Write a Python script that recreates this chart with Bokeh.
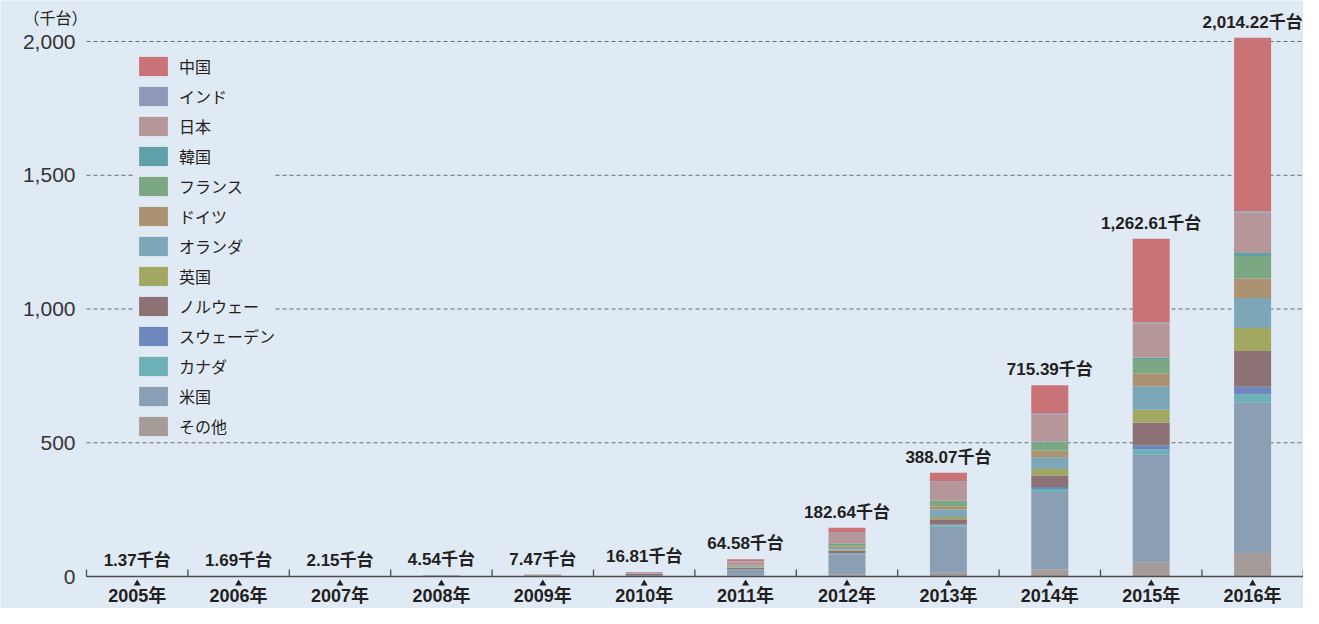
from bokeh.plotting import figure
from bokeh.models import (Range1d, FixedTicker, NumeralTickFormatter, Legend,
                          LegendItem, Label, ColumnDataSource)
from bokeh.core.properties import value
from bokeh.embed import file_html
from bokeh.resources import INLINE

# ---- data (thousand units, EV stock) ----
years = ["2005年", "2006年", "2007年", "2008年", "2009年", "2010年",
         "2011年", "2012年", "2013年", "2014年", "2015年", "2016年"]
totals = [1.37, 1.69, 2.15, 4.54, 7.47, 16.81, 64.58, 182.64, 388.07, 715.39, 1262.61, 2014.22]

others      = [0.02, 0.34, 0.80, 1.28, 2.38, 2.24, 4.55, 8.86, 14.20, 26.03, 52.91, 87.46]
usa         = [1.12, 1.12, 1.12, 2.58, 2.58, 3.77, 21.50, 74.74, 171.41, 290.22, 404.09, 563.71]
canada      = [0, 0, 0, 0, 0, 0, 0.52, 2.60, 5.71, 10.77, 17.68, 29.27]
sweden      = [0, 0, 0, 0, 0, 0, 0.18, 1.11, 2.66, 7.32, 15.91, 29.33]
norway      = [0, 0, 0, 0, 0, 3.35, 5.38, 9.55, 20.49, 43.44, 84.18, 133.26]
uk          = [0.20, 0.20, 0.20, 0.20, 0.20, 0.26, 1.29, 3.90, 7.74, 24.08, 48.51, 86.42]
netherlands = [0, 0, 0, 0, 0, 0.27, 1.14, 6.26, 28.67, 43.76, 87.53, 112.01]
germany     = [0.02, 0.02, 0.02, 0.10, 0.10, 0.25, 2.31, 5.26, 12.16, 24.99, 48.12, 72.73]
france      = [0.01, 0.01, 0.01, 0.01, 0.12, 0.30, 2.93, 9.29, 18.95, 31.54, 54.49, 84.00]
korea       = [0, 0, 0, 0, 0, 0.06, 0.34, 0.85, 1.45, 2.76, 5.67, 11.21]
japan       = [0, 0, 0, 0, 1.08, 3.52, 16.13, 40.58, 69.46, 101.74, 126.40, 151.25]
india       = [0, 0, 0, 0.37, 0.53, 0.88, 1.33, 2.76, 2.95, 3.35, 4.35, 4.80]
china       = [0, 0, 0, 0, 0.48, 1.91, 6.98, 16.88, 32.22, 105.39, 312.77, 648.77]

# stack order: bottom -> top
series_keys = ["others", "usa", "canada", "sweden", "norway", "uk", "netherlands",
               "germany", "france", "korea", "japan", "india", "china"]
series_names = ["その他", "米国", "カナダ", "スウェーデン", "ノルウェー", "英国", "オランダ",
                "ドイツ", "フランス", "韓国", "日本", "インド", "中国"]
series_colors = ["#a59b98", "#8a9fb3", "#6cb1b5", "#6e88bd", "#8c7274", "#a2a861", "#7da7b7",
                 "#ab9270", "#7ba783", "#5fa1a8", "#b59699", "#8e99b9", "#c97377"]
series_values = [others, usa, canada, sweden, norway, uk, netherlands,
                 germany, france, korea, japan, india, china]

y_ticks = [0, 500, 1000, 1500, 2000]
unit_label = "（千台）"

BG = "#dfeaf5"
TXT = "#231f20"
NUM_FONT = "Liberation Sans, Noto Sans CJK JP"
JP_FONT = "Noto Sans CJK JP"

centers = [i + 0.5 for i in range(len(years))]
data = dict(x=centers, year=years, total=totals,
            label=[f"{t:,.2f}千台" for t in totals])
for k, v in zip(series_keys, series_values):
    data[k] = v
source = ColumnDataSource(data)

SPACING = 101.4          # px per category
AXIS_X = 86              # px where the category area starts
W, H = 1303, 608
x_start = -AXIS_X / SPACING
x_end = (W - AXIS_X) / SPACING

p = figure(frame_width=W, frame_height=H,
           x_range=Range1d(x_start, x_end), y_range=Range1d(-119.6, 2153.3),
           output_backend="svg", toolbar_location=None,
           min_border_left=0, min_border_right=0, min_border_top=0, min_border_bottom=0,
           background_fill_color=BG, border_fill_color=BG, outline_line_color=None)

# dashed value grid lines (start at the category area)
grid_y = y_ticks[1:]
p.segment(x0=[0] * len(grid_y), y0=grid_y, x1=[x_end] * len(grid_y), y1=grid_y,
          line_color="#6b6b6b", line_width=1, line_dash="4 3")

renderers = p.vbar_stack(series_keys, x="x", width=0.365, color=series_colors,
                         line_color=None, source=source)

# axis baseline and category separators
p.segment(x0=[0], y0=[0], x1=[x_end], y1=[0], line_color="#4d4d4d", line_width=1.5)
bounds = list(range(len(years) + 1))
p.segment(x0=bounds, y0=[0] * len(bounds), x1=bounds, y1=[26] * len(bounds),
          line_color="#4d4d4d", line_width=1.3)
p.scatter(x=centers, y=[-26] * len(centers), marker="triangle", size=7,
          color="#231f20", line_color=None)

# total labels
p.text(x="x", y="total", text="label", source=source, text_align="center",
       text_baseline="bottom", y_offset=-6, text_font=value(NUM_FONT),
       text_font_style="bold", text_font_size="17px", text_color=TXT)

# x axis: year labels at category centres, drawn at y = 0
p.xaxis.fixed_location = 0
p.xaxis.ticker = FixedTicker(ticks=centers)
p.xaxis.major_label_overrides = {c: y for c, y in zip(centers, years)}
p.xaxis.axis_line_color = None
p.xaxis.major_tick_line_color = None
p.xaxis.minor_tick_line_color = None
p.xaxis.major_tick_in = 0
p.xaxis.major_tick_out = 0
p.xaxis.major_label_standoff = 9
p.xaxis.major_label_text_font = NUM_FONT
p.xaxis.major_label_text_font_style = "bold"
p.xaxis.major_label_text_font_size = "18px"
p.xaxis.major_label_text_color = TXT

# y axis drawn at the start of the category area
p.yaxis.fixed_location = 0
p.yaxis.ticker = FixedTicker(ticks=y_ticks)
p.yaxis.formatter = NumeralTickFormatter(format="0,0")
p.yaxis.axis_line_color = None
p.yaxis.major_tick_line_color = None
p.yaxis.minor_tick_line_color = None
p.yaxis.major_tick_in = 0
p.yaxis.major_tick_out = 0
p.yaxis.major_label_standoff = 11
p.yaxis.major_label_text_font = "Liberation Sans"
p.yaxis.major_label_text_font_size = "21px"
p.yaxis.major_label_text_color = "#333333"

p.xgrid.grid_line_color = None
p.ygrid.grid_line_color = None

p.add_layout(Label(x=-0.306, y=2090, text=unit_label, text_align="center",
                   text_baseline="middle", text_font=JP_FONT, text_font_size="16px",
                   text_color=TXT))

items = [LegendItem(label=n, renderers=[r]) for n, r in zip(series_names, renderers)][::-1]
legend = Legend(items=items, location=(135, 170), padding=0, margin=0, spacing=6,
                glyph_width=36, glyph_height=24, label_height=19, label_standoff=8,
                label_text_font=JP_FONT, label_text_font_size="16px", label_text_color=TXT,
                background_fill_color=BG, background_fill_alpha=1.0,
                border_line_color=None)
p.add_layout(legend)

open("out.html", "w").write(file_html(p, INLINE))
